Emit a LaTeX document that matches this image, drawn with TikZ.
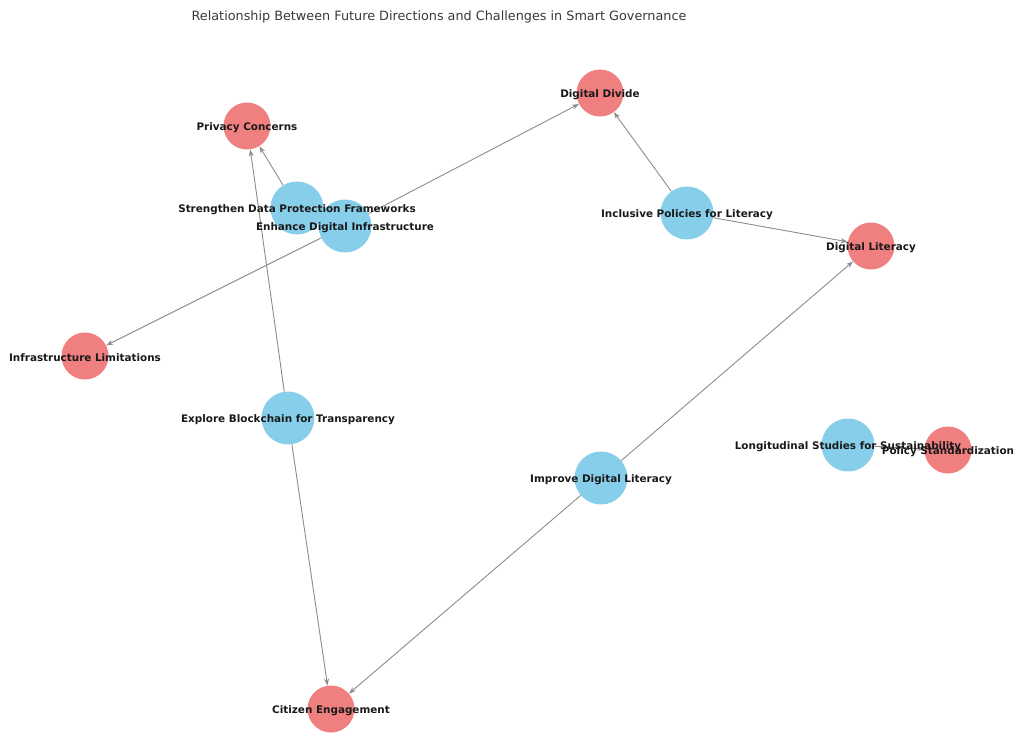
\documentclass[tikz,border=0pt]{standalone}
\usepackage{fontspec}
\setmainfont{DejaVu Sans}
\usetikzlibrary{arrows.meta,backgrounds}
\definecolor{sky}{HTML}{87CEEB}
\definecolor{coral}{HTML}{F08080}
\definecolor{edgegray}{HTML}{8C8C8C}
\definecolor{titlegray}{HTML}{3A3A3A}
\begin{document}
\begin{tikzpicture}[x=1pt,y=-1pt,
  dirnode/.style={circle,fill=sky,draw=none,minimum size=53pt,inner sep=0pt},
  chalnode/.style={circle,fill=coral,draw=none,minimum size=47pt,inner sep=0pt},
  lab/.style={font=\bfseries\fontsize{10.4}{12}\selectfont,text=black!90,inner sep=0pt,yshift=-1.5pt},
  rel/.style={draw=edgegray,line width=0.9pt,-{Stealth[length=7pt,width=5pt]}}]
\useasboundingbox (0,0) rectangle (1018,733);
\node[font=\fontsize{12.8}{15}\selectfont,text=titlegray] (title) at (439,17) {Relationship Between Future Directions and Challenges in Smart Governance};
% challenge nodes
\node[chalnode] (pc) at (247,126) {};
\node[chalnode] (dd) at (600,93) {};
\node[chalnode] (dl) at (871,246) {};
\node[chalnode] (il) at (85,356) {};
\node[chalnode] (ps) at (948,450) {};
\node[chalnode] (ce) at (331,709) {};
% direction nodes
\node[dirnode] (sdp) at (297,208) {};
\node[dirnode] (edi) at (345,226) {};
\node[dirnode] (ipl) at (687,213) {};
\node[dirnode] (ebt) at (288,418) {};
\node[dirnode] (lss) at (848,445) {};
\node[dirnode] (idl) at (601,478) {};
% edges
\begin{pgfonlayer}{background}
\draw[rel] (sdp) -- (pc);
\draw[rel] (edi) -- (dd);
\draw[rel] (edi) -- (il);
\draw[rel] (ipl) -- (dd);
\draw[rel] (ipl) -- (dl);
\draw[rel] (ebt) -- (pc);
\draw[rel] (ebt) -- (ce);
\draw[rel] (idl) -- (dl);
\draw[rel] (idl) -- (ce);
\draw[rel] (lss) -- (ps);
\end{pgfonlayer}
% labels
\node[lab] (pcl) at (pc) {Privacy Concerns};
\node[lab] (ddl) at (dd) {Digital Divide};
\node[lab] (dll) at (dl) {Digital Literacy};
\node[lab] (ill) at (il) {Infrastructure Limitations};
\node[lab] (cel) at (ce) {Citizen Engagement};
\node[lab] (sdpl) at (sdp) {Strengthen Data Protection Frameworks};
\node[lab] (edil) at (edi) {Enhance Digital Infrastructure};
\node[lab] (ipll) at (ipl) {Inclusive Policies for Literacy};
\node[lab] (ebtl) at (ebt) {Explore Blockchain for Transparency};
\node[lab] (idll) at (idl) {Improve Digital Literacy};
\node[lab] (lssl) at (lss) {Longitudinal Studies for Sustainability};
\node[lab] (psl) at (ps) {Policy Standardization};
\end{tikzpicture}
\end{document}
